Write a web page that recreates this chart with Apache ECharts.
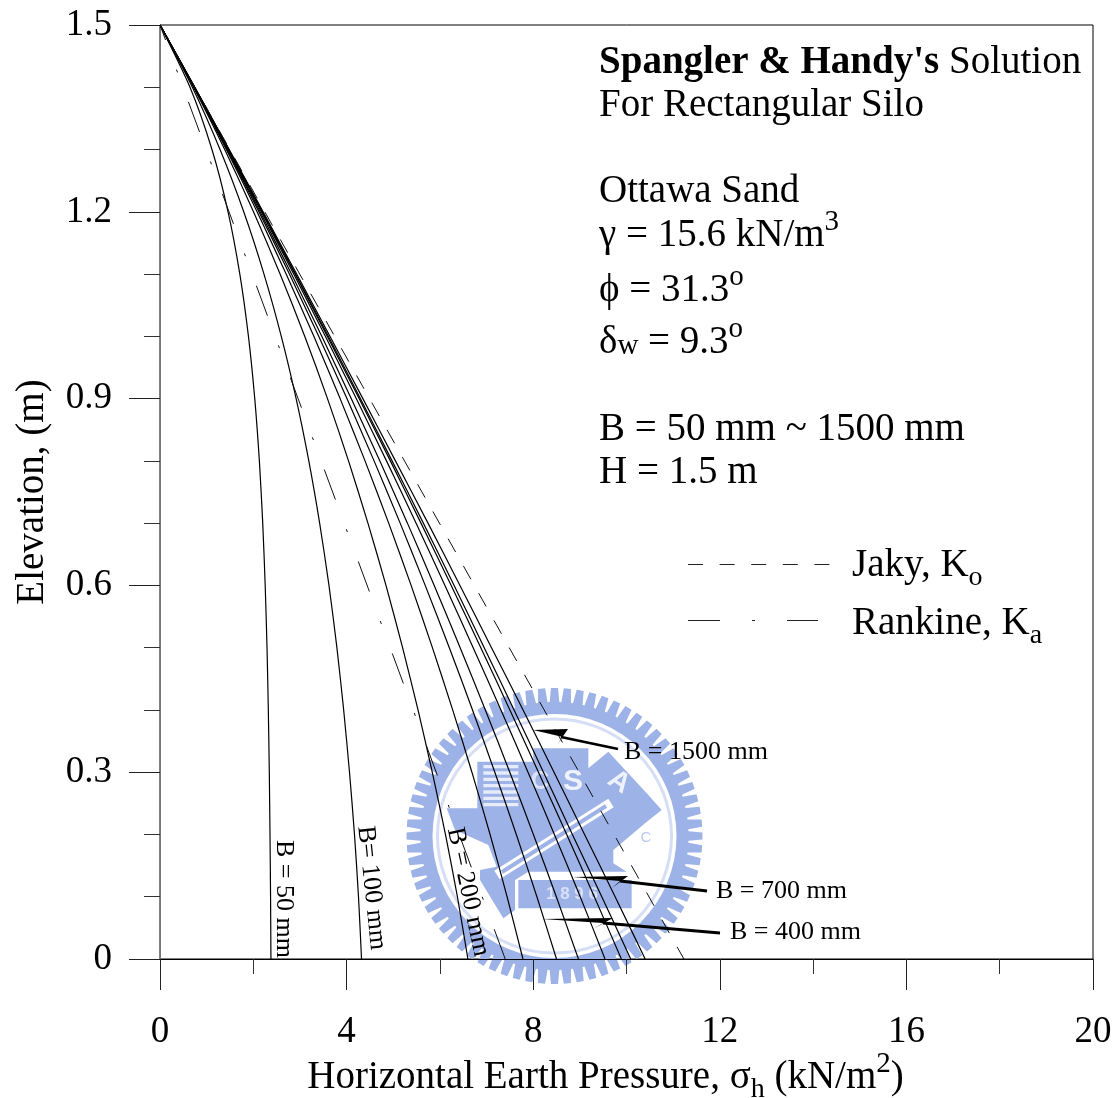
<!DOCTYPE html>
<html><head><meta charset="utf-8">
<style>html,body{margin:0;padding:0;background:#fff}#c{width:1120px;height:1098px}</style>
<script src="https://cdn.jsdelivr.net/npm/echarts@6/dist/echarts.min.js"></script>
</head><body><div id="c"></div>
<script>
const elevations = [1.5,1.4,1.3,1.2,1.1,1.0,0.9,0.8,0.7,0.6,0.5,0.4,0.3,0.2,0.1,0];
const b50   = [0,.643,1.114,1.459,1.711,1.896,2.031,2.130,2.202,2.255,2.294,2.322,2.343,2.358,2.370,2.378];
const b100  = [0,.694,1.287,1.795,2.229,2.600,2.918,3.190,3.422,3.622,3.792,3.937,4.062,4.169,4.255,4.32];
const b200  = [0,.721,1.387,2.004,2.574,3.102,3.590,4.041,4.457,4.844,5.200,5.531,5.836,6.119,6.375,6.60];
const b300  = [0,.730,1.423,2.081,2.704,3.298,3.861,4.395,4.902,5.383,5.839,6.274,6.686,7.076,7.440,7.78];
const b400  = [0,.735,1.440,2.120,2.774,3.402,4.007,4.589,5.148,5.685,6.202,6.699,7.177,7.638,8.079,8.50];
const b500  = [0,.737,1.452,2.146,2.818,3.468,4.099,4.711,5.304,5.878,6.434,6.974,7.498,8.004,8.496,8.97];
const b700  = [0,.739,1.465,2.174,2.866,3.545,4.207,4.855,5.490,6.108,6.713,7.308,7.889,8.454,9.008,9.54];
const b900  = [0,.743,1.473,2.190,2.894,3.586,4.268,4.938,5.594,6.242,6.877,7.500,8.113,8.718,9.310,9.89];
const b1200 = [0,.745,1.475,2.195,2.905,3.610,4.295,4.975,5.645,6.305,6.950,7.590,8.220,8.840,9.470,10.09];
const b1500 = [0,.742,1.483,2.210,2.930,3.643,4.349,5.047,5.745,6.430,7.106,7.783,8.446,9.101,9.756,10.40];
const jakyX = [0,11.23], rankineX = [0,7.4], endElev = [1.5,0];
const curves = [['B = 50 mm',b50],['B = 100 mm',b100],['B = 200 mm',b200],['B = 300 mm',b300],['B = 400 mm',b400],['B = 500 mm',b500],['B = 700 mm',b700],['B = 900 mm',b900],['B = 1200 mm',b1200],['B = 1500 mm',b1500]];

const FONT = '"Liberation Serif","Times New Roman",serif';
const BLUE = '#9db2e6';
const rich = {
  n:{fontFamily:FONT,fontSize:39,lineHeight:56,verticalAlign:'middle',color:'#000'},
  b:{fontFamily:FONT,fontSize:39,fontWeight:'bold',lineHeight:56,verticalAlign:'middle',color:'#000'},
  w:{fontFamily:FONT,fontSize:29,lineHeight:56,verticalAlign:'bottom',padding:[0,0,10,0],color:'#000'},
  sup:{fontFamily:FONT,fontSize:29,lineHeight:29,verticalAlign:'top',color:'#000'},
  sub:{fontFamily:FONT,fontSize:28,lineHeight:28,verticalAlign:'bottom',padding:[0,0,2,0],color:'#000'}
};
const txt = (x,y,s)=>({type:'text',z:50,x,y,silent:true,style:{x:0,y:0,text:s,rich,verticalAlign:'middle',align:'left',fill:'#000'}});
const small = (x,y,s,rotDeg)=>({type:'text',z:50,x,y,rotation:-(rotDeg||0)*Math.PI/180,silent:true,
  style:{text:s,fontFamily:FONT,fontSize:26,fill:'#000',align:rotDeg?'center':'left',verticalAlign:'middle'}});
const seg = (x1,y1,x2,y2,w,c)=>({type:'line',z:40,silent:true,shape:{x1,y1,x2,y2},style:{stroke:c||'#000',lineWidth:w||1}});
const poly = (pts,fill,z)=>({type:'polygon',z:z===undefined?40:z,silent:true,shape:{points:pts},style:{fill}});
const zp = a=>a.map(p=>[400+p[0]/3,680+p[1]/3]);

// Watermark logo
const cx=554.5, cy=836, logo=[];
const gear=[]; const N=72;
for(let i=0;i<N;i++){
  const t=i/N*2*Math.PI, d=0.024;
  [[134,t-d*1.5],[148,t-d],[148,t+d],[134,t+d*1.5]].forEach(([r,a])=>gear.push([cx+r*Math.cos(a),cy+r*Math.sin(a)]));
}
logo.push(poly(gear,BLUE,0));
logo.push({type:'circle',z:0,silent:true,shape:{cx,cy,r:122},style:{fill:'#fff'}});
logo.push({type:'circle',z:0,silent:true,shape:{cx,cy,r:117},style:{fill:'none',stroke:'#d5def5',lineWidth:3}});
logo.push(poly(zp([[140,385],[232,385],[232,245],[400,245],[400,205],[565,205],[565,265],[625,215],[745,345],[785,390],[735,430],[640,510],[640,550],[680,575],[385,575],[345,600],[345,690],[310,715],[240,600],[240,570],[290,560],[265,495],[165,450]]),BLUE,0));
logo.push(poly(zp([[355,600],[695,600],[695,685],[355,685]]),BLUE,0));
for(let i=0;i<7;i++){ const y=255+i*19; logo.push(poly(zp([[250,y],[355,y],[355,y+10],[250,y+10]]),'#e6ecfb',0)); }
logo.push({type:'line',z:0,silent:true,shape:{x1:611,y1:803,x2:497,y2:875},style:{stroke:'#fff',lineWidth:10}});
logo.push({type:'line',z:0,silent:true,shape:{x1:606,y1:806,x2:502,y2:872},style:{stroke:BLUE,lineWidth:4}});
logo.push({type:'text',z:0,x:540,y:782,silent:true,style:{text:'C',fontFamily:'"Liberation Sans"',fontSize:26,fontWeight:'bold',fill:'#dbe3f8',align:'center',verticalAlign:'middle'}});
logo.push({type:'text',z:0,x:573,y:782,silent:true,style:{text:'S',fontFamily:'"Liberation Sans"',fontSize:30,fontWeight:'bold',fill:'#eef2fc',align:'center',verticalAlign:'middle'}});
logo.push({type:'text',z:0,x:619,y:782,rotation:-0.6,silent:true,style:{text:'A',fontFamily:'"Liberation Sans"',fontSize:28,fontWeight:'bold',fill:'#eef2fc',align:'center',verticalAlign:'middle'}});
logo.push({type:'text',z:0,x:572,y:894,silent:true,style:{text:'1 8 9 6',fontFamily:'"Liberation Sans"',fontSize:17,fontWeight:'bold',fill:'#d8e1f7',align:'center',verticalAlign:'middle'}});
logo.push({type:'text',z:0,x:646,y:838,silent:true,style:{text:'C',fontFamily:'"Liberation Sans"',fontSize:15,fill:'#b8c8ee',align:'center',verticalAlign:'middle'}});

// Annotations
const notes = [
  txt(599,63,"{b|Spangler & Handy's}{n| Solution}"),
  txt(599,106,"{n|For Rectangular Silo}"),
  txt(599,192,"{n|Ottawa Sand}"),
  txt(599,236,"{n|γ = 15.6 kN/m}{sup|3}"),
  txt(599,291,"{n|ϕ = 31.3}{sup|o}"),
  txt(599,343,"{n|δ}{w|w}{n| = 9.3}{sup|o}"),
  txt(599,430,"{n|B = 50 mm ~ 1500 mm}"),
  txt(599,473,"{n|H = 1.5 m}"),
  txt(852,566,"{n|Jaky, K}{sub|o}"),
  txt(852,624,"{n|Rankine, K}{sub|a}"),
  {type:'line',z:40,silent:true,shape:{x1:688,y1:564.5,x2:830,y2:564.5},style:{stroke:'#222',lineWidth:1,lineDash:[15,16.6]}},
  seg(688,620.5,720,620.5,1,'#222'), seg(752,620.5,755,620.5,1,'#222'), seg(787,620.5,818,620.5,1,'#222'),
  small(284,899,'B = 50 mm',90),
  small(371.5,888,'B= 100 mm',84),
  small(468,892,'B = 200 mm',78),
  small(624,752,'B = 1500 mm'),
  small(716,891,'B = 700 mm'),
  small(730,932,'B = 400 mm'),
  seg(561,737,618,749,2.8), poly([[533,730],[568,729],[557,745],[563,737]],'#000'),
  seg(620,881,707,891,2.8), poly([[573,877],[628,876],[612,888],[620,881]],'#000'),
  seg(603,923,720,933,2.8), poly([[542,919],[613,918],[593,929],[603,923]],'#000')
];

const series = curves.map(([name,xs])=>({
  name,type:'line',showSymbol:false,symbol:'none',smooth:0.25,z:5,silent:true,clip:true,
  lineStyle:{color:'#000',width:1.2},data:xs.map((x,i)=>[x,elevations[i]])
}));
series.push({name:'Jaky, Ko',type:'line',symbol:'none',z:5,silent:true,
  lineStyle:{color:'#111',width:1,type:[15.3,15.9],dashOffset:3.8},data:jakyX.map((x,i)=>[x,endElev[i]])});
series.push({name:'Rankine, Ka',type:'line',symbol:'none',z:5,silent:true,
  lineStyle:{color:'#111',width:1,type:[32,31.5,3,31.5],dashOffset:16},data:rankineX.map((x,i)=>[x,endElev[i]])});

const chart = echarts.init(document.getElementById('c'),null,{renderer:'canvas'});
chart.setOption({
  animation:false,backgroundColor:'#fff',
  grid:{left:160,top:25,right:27,bottom:139,outerBoundsMode:'none',containLabel:false,show:true,borderColor:'#000',borderWidth:1,backgroundColor:'transparent',z:0},
  xAxis:{type:'value',min:0,max:20,interval:4,
    axisLine:{show:true,lineStyle:{color:'#000',width:1}},
    axisTick:{show:true,length:31,inside:false,lineStyle:{color:'#222',width:1}},
    minorTick:{show:true,splitNumber:2,length:15,lineStyle:{color:'#333',width:1}},
    splitLine:{show:false},minorSplitLine:{show:false},
    axisLabel:{margin:55,fontFamily:FONT,fontSize:37,color:'#000',hideOverlap:false},
    name:"{n|Horizontal Earth Pressure, σ}{sub|h}{n| (kN/m}{sup|2}{n|)}",nameLocation:'middle',nameGap:91,nameMoveOverlap:false,
    nameTextStyle:{rich,padding:[0,42,0,0]}},
  yAxis:{type:'value',min:0,max:1.5,interval:0.3,
    axisLine:{show:true,onZero:false,lineStyle:{color:'#777',width:1}},
    axisTick:{show:true,length:31,lineStyle:{color:'#222',width:1}},
    minorTick:{show:true,splitNumber:3,length:16,lineStyle:{color:'#333',width:1}},
    splitLine:{show:false},minorSplitLine:{show:false},
    axisLabel:{margin:48,fontFamily:FONT,fontSize:37,color:'#000',padding:[6,0,0,0]},
    name:'Elevation, (m)',nameLocation:'middle',nameGap:108,nameRotate:90,nameMoveOverlap:false,
    nameTextStyle:{fontFamily:FONT,fontSize:39,color:'#000'}},
  series,
  graphic:{elements:[...logo,...notes]}
});
</script></body></html>
